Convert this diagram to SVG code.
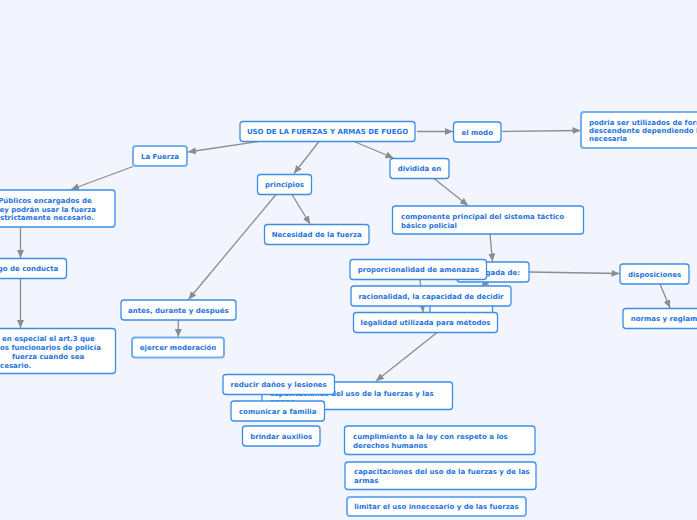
<svg xmlns="http://www.w3.org/2000/svg" width="697" height="520" viewBox="0 0 697 520">
<defs>
<marker id="ah" markerUnits="userSpaceOnUse" markerWidth="8" markerHeight="7" refX="8" refY="3.5" orient="auto">
<path d="M0,0 L8,3.5 L0,7 z" fill="#8c8c8c"/>
</marker>
<style>
.n rect{fill:#ffffff;stroke:#3a8ee8;stroke-width:1.3}
.n.l rect{stroke:#72aef0;stroke-width:2}
.n text{font-family:"DejaVu Sans",Verdana,sans-serif;font-weight:bold;font-size:7px;fill:#1f74dc}
.c{text-anchor:middle}
.e{text-anchor:end}
#connectors line{stroke:#8c8c8c;stroke-width:1.3;marker-end:url(#ah)}
</style>
</defs>
<rect width="697" height="520" fill="#f2f5fd"/>
<g id="connectors">
<line x1="258" y1="141.5" x2="188" y2="152"/>
<line x1="133" y1="166.5" x2="71" y2="189.5"/>
<line x1="20.5" y1="227.5" x2="20.5" y2="258"/>
<line x1="20.5" y1="278.5" x2="20.5" y2="328"/>
<line x1="319" y1="141.5" x2="294" y2="173.5"/>
<line x1="354" y1="141.5" x2="393.5" y2="158"/>
<line x1="417" y1="131.5" x2="453" y2="131.5"/>
<line x1="502.5" y1="131.5" x2="580.5" y2="130.5"/>
<line x1="292" y1="194.5" x2="310" y2="224"/>
<line x1="276" y1="194.5" x2="188.5" y2="299.5"/>
<line x1="178.3" y1="320" x2="178.3" y2="337"/>
<line x1="434" y1="178.5" x2="468" y2="205.5"/>
<line x1="490" y1="234" x2="492.5" y2="261.5"/>
<line x1="529" y1="272" x2="619.5" y2="273.5"/>
<line x1="660" y1="284" x2="670" y2="308"/>
<line x1="420" y1="279.5" x2="423" y2="312"/>
<line x1="487" y1="281.5" x2="481" y2="287"/>
<line x1="437.7" y1="332" x2="376" y2="381"/>
</g>
<g id="uso" class="n"><rect x="240" y="121.5" width="175" height="20" rx="3"/><text class="c" x="327.5" y="134">USO DE LA FUERZAS Y ARMAS DE FUEGO</text></g>
<g id="modo" class="n"><rect x="453.5" y="122" width="47.5" height="20" rx="3"/><text class="c" x="477.2" y="134.5">el modo</text></g>
<g id="podria" class="n l"><rect x="581" y="112" width="130" height="36" rx="3"/><text x="589" y="125.2">podria ser utilizados de forma</text><text x="589" y="133.2">descendente dependiendo la fuerza</text><text x="589" y="141.2">necesaria</text></g>
<g id="lafuerza" class="n l"><rect x="133" y="146" width="54" height="20" rx="3"/><text class="c" x="160" y="158.5">La Fuerza</text></g>
<g id="publicos" class="n"><rect x="-10" y="190" width="125" height="37" rx="3"/><text class="e" x="91.7" y="202.5">Públicos encargados de</text><text class="e" x="96" y="211.8">ley podrán usar la fuerza</text><text class="e" x="94" y="220.2">estrictamente necesario.</text></g>
<g id="codigo" class="n"><rect x="-40" y="258.5" width="106.5" height="20" rx="3"/><text class="e" x="58.3" y="271">Código de conducta</text></g>
<g id="especial" class="n"><rect x="-10" y="328.5" width="125.5" height="45" rx="3"/><text x="2" y="341">en especial el art.3 que</text><text x="-2.4" y="350.2">los funcionarios de policía</text><text x="12" y="358.5">fuerza cuando sea</text><text x="-9.7" y="367.5">necesario.</text></g>
<g id="principios" class="n"><rect x="257.5" y="174.5" width="54" height="20" rx="3"/><text class="c" x="284.5" y="187">principios</text></g>
<g id="dividida" class="n"><rect x="390" y="158.5" width="59" height="20" rx="3"/><text class="c" x="419.5" y="171">dividida en</text></g>
<g id="necesidad" class="n"><rect x="264.5" y="224.5" width="104.5" height="20" rx="3"/><text class="c" x="316.7" y="237">Necesidad de la fuerza</text></g>
<g id="componente" class="n"><rect x="392.5" y="206" width="191" height="28" rx="3"/><text x="401" y="219.2">componente principal del sistema táctico</text><text x="401" y="227.5">básico policial</text></g>
<g id="ligada" class="n"><rect x="457" y="262" width="72" height="20" rx="3"/><text class="e" x="520" y="274.5">ligada de:</text></g>
<g id="oculto" class="n"><rect x="430" y="302" width="62.5" height="22" rx="3"/></g>
<g id="proporcionalidad" class="n"><rect x="350" y="259.5" width="136.5" height="20" rx="3"/><text class="c" x="418.3" y="272">proporcionalidad de amenazas</text></g>
<g id="racionalidad" class="n"><rect x="351" y="286" width="160" height="20" rx="3"/><text class="c" x="431" y="298.5">racionalidad, la capacidad de decidir</text></g>
<g id="legalidad" class="n"><rect x="353.5" y="312.5" width="144" height="20" rx="3"/><text class="c" x="425.5" y="325">legalidad utilizada para métodos</text></g>
<g id="disposiciones" class="n"><rect x="620" y="264" width="69" height="20" rx="3"/><text class="c" x="654.5" y="276.5">disposiciones</text></g>
<g id="normas" class="n"><rect x="623" y="308.5" width="90" height="20" rx="3"/><text x="630.7" y="321">normas y reglamentos</text></g>
<g id="antes" class="n"><rect x="121" y="300" width="115" height="20" rx="3"/><text class="c" x="178.3" y="312.5">antes, durante y después</text></g>
<g id="ejercer" class="n l"><rect x="132" y="337.5" width="92" height="20" rx="3"/><text class="c" x="178" y="350">ejercer moderación</text></g>
<g id="capacitaciones1" class="n"><rect x="262" y="382" width="190.5" height="27.5" rx="3"/><text x="270" y="395.5">capacitaciones del uso de la fuerzas y las</text><text x="270" y="403.5">armas</text></g>
<g id="reducir" class="n"><rect x="223" y="374.5" width="111.5" height="20" rx="3"/><text class="c" x="278.7" y="387">reducir daños y lesiones</text></g>
<g id="comunicar" class="n"><rect x="231" y="401" width="93.5" height="20" rx="3"/><text class="c" x="277.7" y="413.5">comunicar a familia</text></g>
<g id="brindar" class="n"><rect x="242.5" y="426" width="77.5" height="20" rx="3"/><text class="c" x="281.2" y="438.5">brindar auxilios</text></g>
<g id="cumplimiento" class="n"><rect x="344.5" y="426" width="190.5" height="28.5" rx="3"/><text x="353" y="438.5">cumplimiento a la ley con respeto a los</text><text x="353" y="447.5">derechos humanos</text></g>
<g id="capacitaciones2" class="n"><rect x="345" y="462" width="191" height="27.5" rx="3"/><text x="354" y="474.2">capacitaciones del uso de la fuerzas y de las</text><text x="354" y="483.2">armas</text></g>
<g id="limitar" class="n l"><rect x="347" y="497" width="179" height="19" rx="3"/><text class="c" x="436.5" y="509">limitar el uso innecesario y de las fuerzas</text></g>
</svg>
